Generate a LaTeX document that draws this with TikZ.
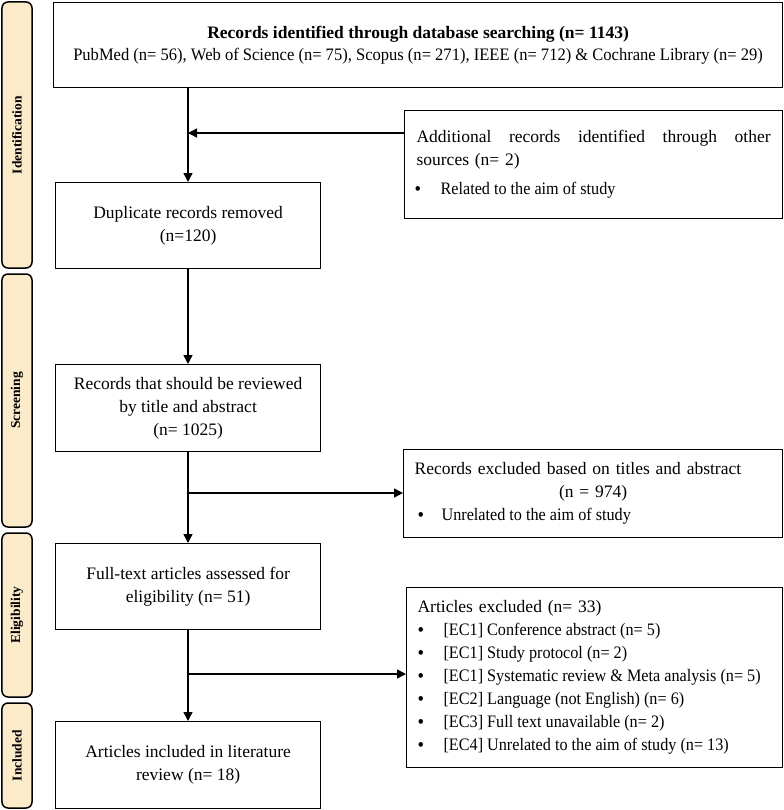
\documentclass[tikz,border=0pt]{standalone}
\usepackage{fontspec}
\setmainfont{Liberation Serif}
\newfontfamily\narrowA{Liberation Serif}[FakeStretch=0.925]
\newfontfamily\narrowB{Liberation Serif}[FakeStretch=0.945]
\usetikzlibrary{arrows.meta}
\definecolor{barfill}{RGB}{252,235,203}
\newcommand{\bul}{\raisebox{-1bp}{\fontsize{20bp}{23bp}\selectfont\textbullet}}
\newcommand{\itemfont}{\narrowA\spaceskip=0pt\xspaceskip=0pt\relax}
\begin{document}
\begin{tikzpicture}[x=1bp,y=-1bp,
  box/.style={draw, line width=1.2bp, inner sep=0pt, anchor=north west,
    font=\fontsize{17.5bp}{23bp}\selectfont},
  bar/.style={draw, line width=1.5bp, fill=barfill, rounded corners=6bp, rotate=90,
    inner sep=0pt, font=\fontsize{13.5bp}{15bp}\selectfont\bfseries},
  flow/.style={line width=1.4bp, -{Triangle[length=9bp,width=9bp]}}
]
\useasboundingbox (0,0) rectangle (784,810);

% phase bars
\node[bar, minimum width=266bp, minimum height=30bp] (idbar) at (17,135) {Identification};
\node[bar, minimum width=253bp, minimum height=30bp] (scbar) at (17,400.5) {Screening};
\node[bar, minimum width=164bp, minimum height=30bp] (elbar) at (17,615) {Eligibility};
\node[bar, minimum width=105bp, minimum height=30bp] (inbar) at (17,755.5) {Included};

% boxes
\node[box, minimum width=729bp, minimum height=85bp, align=center,
  font=\fontsize{17.5bp}{22bp}\selectfont] (top) at (53,2)
  {\textbf{Records identified through database searching (n= 1143)}\\
   \narrowB\spaceskip=0pt\xspaceskip=0pt\relax
   PubMed (n= 56), Web of Science (n= 75), Scopus (n= 271), IEEE (n= 712) \& Cochrane Library (n= 29)};

\node[box, text width=354bp, inner xsep=12bp, minimum height=108bp, align=left] (add) at (404,110)
  {\makebox[\linewidth][l]{Additional\hfill records\hfill identified\hfill through\hfill other}\\
   sources (n= 2)\\[6bp]
   \itemfont
   \makebox[24bp][l]{\hspace{-2bp}\bul}Related to the aim of study};

\node[box, minimum width=265bp, minimum height=86bp, align=center] (dup) at (55,182)
  {Duplicate records removed\\(n=120)};

\node[box, minimum width=265bp, minimum height=87bp, align=center] (rev) at (55,364)
  {Records that should be reviewed\\by title and abstract\\(n= 1025)};

\node[box, text width=357bp, inner xsep=11bp, minimum height=88bp, align=left] (excl) at (403,449)
  {Records excluded based on titles and abstract\\
   \makebox[\linewidth][c]{(n = 974)}\\
   \itemfont
   \makebox[27bp][l]{\hspace{3bp}\bul}Unrelated to the aim of study};

\node[box, minimum width=265bp, minimum height=86bp, align=center] (full) at (55,543)
  {Full-text articles assessed for\\eligibility (n= 51)};

\node[box, text width=354bp, inner xsep=11bp, minimum height=180bp, align=left] (artex) at (406,587)
  {Articles excluded (n= 33)\\
   \itemfont
   \makebox[26bp][l]{\bul}[EC1] Conference abstract (n= 5)\\
   \makebox[26bp][l]{\bul}[EC1] Study protocol (n= 2)\\
   \makebox[26bp][l]{\bul}[EC1] Systematic review \& Meta analysis (n= 5)\\
   \makebox[26bp][l]{\bul}[EC2] Language (not English) (n= 6)\\
   \makebox[26bp][l]{\bul}[EC3] Full text unavailable (n= 2)\\
   \makebox[26bp][l]{\bul}[EC4] Unrelated to the aim of study (n= 13)};

\node[box, minimum width=265bp, minimum height=87bp, align=center] (inc) at (55,721)
  {Articles included in literature\\review (n= 18)};

% junction points
\coordinate (j1) at (188,133);
\coordinate (j2) at (188,493);
\coordinate (j3) at (188,674);

% connectors
\draw[flow] (top.south -| j1) -- (dup.north -| j1);
\draw[flow] (add.west |- j1) -- (j1);
\draw[flow] (dup.south -| j1) -- (rev.north -| j1);
\draw[flow] (rev.south -| j2) -- (full.north -| j2);
\draw[flow] (j2) -- (excl.west |- j2);
\draw[flow] (full.south -| j3) -- (inc.north -| j3);
\draw[flow] (j3) -- (artex.west |- j3);
\end{tikzpicture}
\end{document}
